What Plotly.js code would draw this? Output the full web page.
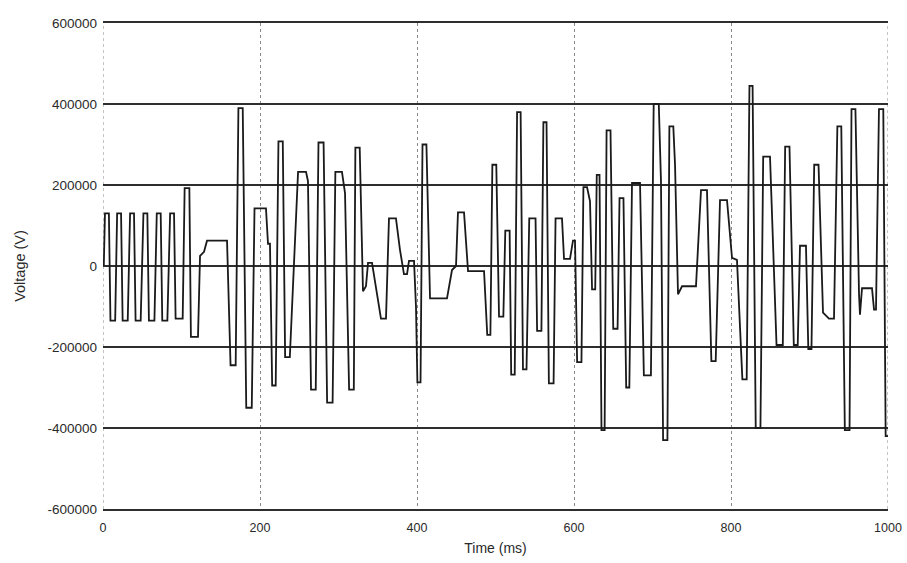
<!DOCTYPE html>
<html>
<head>
<meta charset="utf-8">
<script src="https://cdn.plot.ly/plotly-3.0.1.min.js"></script>
<style>html,body{margin:0;padding:0;background:#fff;}#chart{width:907px;height:563px;}</style>
</head>
<body>
<div id="chart"></div>
<script>
// Time (ms) and voltage (V)
const timeMs = [
  1, 2.5, 7.5, 9.5, 15.5, 18, 23, 25, 31.5, 34.5, 39.5, 41.5, 48,
  51.5, 56.5, 58.5, 65.5, 68.5, 73.5, 75.5, 82, 85.5, 90.5, 92.5, 101.5,
  104, 110, 112, 121, 123.6, 128.7, 132.5, 158.0, 162.5, 169,
  172.5, 178, 182.5, 189.5, 193, 207.6, 210.2, 212.7, 215.5, 220,
  223.5, 229, 232, 238, 248.5, 258.6, 261.1, 265, 271,
  274.5, 281, 285.5, 292.5, 296, 304.4, 308.3, 313.5, 319.5,
  321.5, 327, 331.2, 335.0, 337.6, 342.7, 347.8, 354.1, 360.5,
  364.3, 373.2, 378.3, 383.4, 387.3, 389.8, 396.2, 398.7, 400.5, 404.5,
  407, 412, 416.6, 438.2, 444.6, 449.7, 452.2, 459.9, 465.0, 485.4,
  489.5, 493.5, 496, 501, 504.5, 510, 512.5, 518, 520, 524.5,
  527.5, 532, 535, 539.5, 543, 551, 553, 558.5, 561, 565,
  568, 574, 576.5, 584.7, 587.3, 594.9, 598.7, 601.3, 604, 609.5,
  612, 616.6, 620.4, 623, 627, 629, 632.5, 635, 639,
  641.5, 646.5, 650, 655.5, 658, 663, 666.5, 670.5, 673.9, 684.1,
  689, 698, 701.5, 708, 710.8, 713.5, 719,
  721.5, 726.5, 728.7, 732.5, 737.6, 755.4, 761.8, 769.4, 775, 780.5,
  786.0, 794.9, 801.3, 807.6, 814.5, 820, 823.5, 827.5, 831.5, 837.5,
  841, 849.7, 858, 866, 869, 874.5, 880, 885, 887.9, 895.5,
  898.5, 902.5, 906, 911.5, 917.2, 924.8, 931.2, 935.5, 940.5, 945,
  951, 953.5, 958.5, 963.1, 964.3, 966.9, 979.6, 982.2, 984.7, 988.5,
  994, 997, 1000
];
const voltageV = [
  0, 130000, 130000, -135000, -135000, 130000, 130000, -135000, -135000, 130000, 130000, -135000, -135000,
  130000, 130000, -135000, -135000, 130000, 130000, -135000, -135000, 130000, 130000, -130000, -130000,
  192500, 192500, -175000, -175000, 25000, 35000, 62500, 62500, -245000, -245000,
  390000, 390000, -350000, -350000, 142500, 142500, 55000, 55000, -295000, -295000,
  307500, 307500, -225000, -225000, 232500, 232500, 210000, -305000, -305000,
  305000, 305000, -337500, -337500, 232500, 232500, 180000, -305000, -305000,
  292500, 292500, -62500, -50000, 7500, 7500, -50000, -130000, -130000,
  117500, 117500, 40000, -20000, -20000, 12500, 12500, -100000, -287500, -287500,
  300000, 300000, -80000, -80000, -10000, 0, 132500, 132500, -12500, -12500,
  -170000, -170000, 250000, 250000, -125000, -125000, 87500, 87500, -268000, -268000,
  380000, 380000, -255000, -255000, 117500, 117500, -160000, -160000, 355000, 355000,
  -290000, -290000, 117500, 117500, 17500, 17500, 62500, 62500, -237500, -237500,
  195000, 195000, 160000, -57500, -57500, 225000, 225000, -405000, -405000,
  335000, 335000, -155000, -155000, 167500, 167500, -300000, -300000, 205000, 205000,
  -270000, -270000, 400000, 400000, 210000, -430000, -430000,
  345000, 345000, 250000, -70000, -50000, -50000, 187500, 187500, -235000, -235000,
  162500, 162500, 20000, 15000, -280000, -280000, 445000, 445000, -400000, -400000,
  270000, 270000, -195000, -195000, 295000, 295000, -195000, -195000, 50000, 50000,
  -205000, -205000, 250000, 250000, -115000, -130000, -130000, 345000, 345000, -405000,
  -405000, 387500, 387500, -70000, -120000, -55000, -55000, -107500, -107500, 387500,
  387500, -420000, -420000
];
const xTickVals = [0, 200, 400, 600, 800, 1000];
const xTickText = ['0', '200', '400', '600', '800', '1000'];
const yTickVals = [-600000, -400000, -200000, 0, 200000, 400000, 600000];
const yTickText = ['-600000', '-400000', '-200000', '0', '200000', '400000', '600000'];

const trace = {
  x: timeMs, y: voltageV, type: 'scatter', mode: 'lines',
  line: {color: '#1a1a1a', width: 1.8, shape: 'linear'},
  hoverinfo: 'skip'
};
// dotted vertical frame lines at the two ends of the time axis
const edgeShapes = [xTickVals[0], xTickVals[xTickVals.length - 1]].map(v => ({
  type: 'line', xref: 'x', yref: 'paper', x0: v, x1: v, y0: 0, y1: 1,
  line: {color: '#8a8a8a', width: 1, dash: 'dot'}, layer: 'below'
}));
const layout = {
  width: 907, height: 563,
  margin: {l: 103, r: 19, t: 23, b: 54},
  paper_bgcolor: '#ffffff', plot_bgcolor: '#ffffff',
  showlegend: false,
  font: {family: 'Liberation Sans, Arial, sans-serif', color: '#2a2a2a'},
  shapes: edgeShapes,
  xaxis: {
    range: [0, 1000], tickvals: xTickVals, ticktext: xTickText,
    showgrid: true, gridcolor: '#8a8a8a', griddash: 'dot', gridwidth: 1,
    zeroline: false, showline: true, mirror: true, linecolor: '#2e2e2e', linewidth: 1.6,
    ticks: '', ticklabelstandoff: 6,
    tickfont: {size: 12.5, color: '#2a2a2a'},
    title: {text: 'Time (ms)', font: {size: 14, color: '#2a2a2a'}, standoff: 9}
  },
  yaxis: {
    range: [-600000, 600000], tickvals: yTickVals, ticktext: yTickText,
    showgrid: true, gridcolor: '#2e2e2e', gridwidth: 1.5,
    zeroline: true, zerolinecolor: '#2e2e2e', zerolinewidth: 1.5,
    showline: false, ticks: '', ticklabelstandoff: 5,
    tickfont: {size: 13.5, color: '#2a2a2a'},
    title: {text: 'Voltage (V)', font: {size: 14.5, color: '#2a2a2a'}, standoff: 18}
  }
};
Plotly.newPlot('chart', [trace], layout, {staticPlot: true, displayModeBar: false});
</script>
</body>
</html>
